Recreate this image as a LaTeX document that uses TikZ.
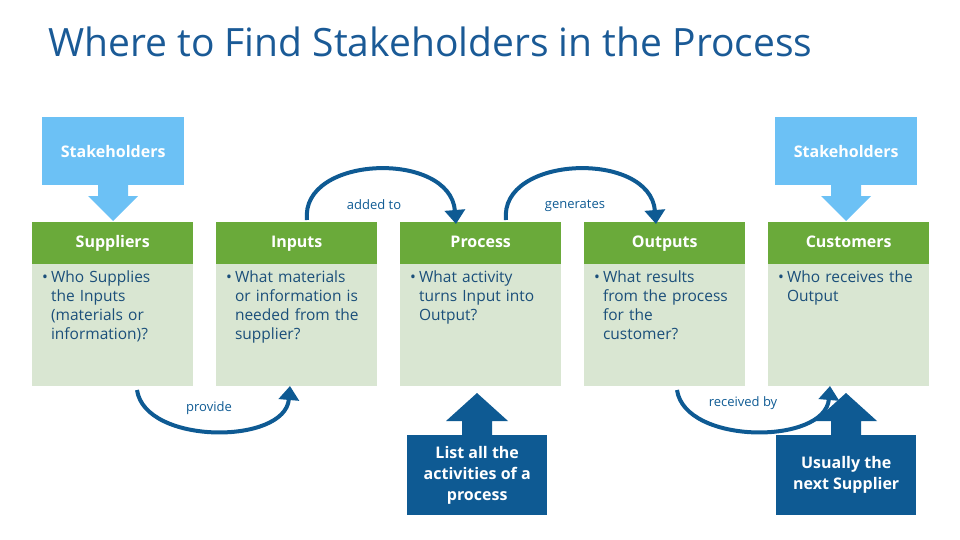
\documentclass[tikz,border=0pt]{standalone}
\usepackage{fontspec}
\setmainfont{Open Sans}
\usetikzlibrary{arrows.meta,positioning}
\definecolor{titleblue}{HTML}{1A5A96}
\definecolor{headgreen}{HTML}{6AAA3A}
\definecolor{bodygreen}{HTML}{D9E6D2}
\definecolor{skyblue}{HTML}{6CC1F5}
\definecolor{navy}{HTML}{0E5A93}
\definecolor{textblue}{HTML}{1B4F7A}
\begin{document}
\begin{tikzpicture}[x=1pt,y=-1pt,>={Triangle[length=14pt,width=20pt]},
    head/.style={fill=headgreen,text=white,font=\bfseries\fontsize{16}{18}\selectfont,
        minimum width=161pt,minimum height=42pt,inner sep=0pt,anchor=north west,
        text height=12pt,text depth=3pt},
    body/.style={fill=bodygreen,minimum width=161pt,minimum height=122pt,
        anchor=north west,inner sep=0pt},
    flow/.style={->,line width=4pt,draw=navy},
    flowlabel/.style={text=navy,font=\fontsize{13}{15}\selectfont},
    stake/.style={fill=skyblue,text=white,font=\bfseries\fontsize{16}{18}\selectfont,
        minimum width=142pt,minimum height=68pt,inner sep=0pt,anchor=north west},
    note/.style={fill=navy,text=white,font=\bfseries\fontsize{16}{21}\selectfont,
        minimum width=140pt,minimum height=80pt,inner sep=0pt,anchor=north west,
        align=center}]
    \useasboundingbox (0,0) rectangle (960,540);
    % Title
    \node [anchor=west,text=titleblue,font=\fontsize{39}{44}\selectfont,inner sep=0pt]
        (title) at (48,42) {Where to Find Stakeholders in the Process};

    % Columns
    \foreach \x/\name/\txt/\bdy in {
        32/sup/Suppliers/{Who Supplies the Inputs (materials or information)?},
        216/inp/Inputs/{What materials or information is needed from the supplier?},
        400/pro/Process/{What activity turns Input into Output?},
        584/out/Outputs/{What results from the process for the customer?},
        768/cus/Customers/{Who receives the Output}} {
        \node [head] (\name) at (\x,222) {\txt};
        \node [body] (\name b) at (\x,264) {};
        \node [anchor=north west,text=textblue,font=\fontsize{15.5}{19}\selectfont,
            text width=150pt,align=left,inner sep=0pt] (\name t) at (\x+10,271)
            {\textbullet\hspace{3pt}\parbox[t]{127pt}{\raggedright\bdy}};
    }

    % Stakeholder callouts
    \foreach \x/\name in {42/stl, 775/str} {
        \node [stake] (\name) at (\x,117) {Stakeholders};
        \fill [skyblue] (\x+56,185) -- (\x+86,185) -- (\x+86,196) -- (\x+96,196)
            -- (\x+71,221) -- (\x+46,196) -- (\x+56,196) -- cycle;
    }

    % Bottom notes
    \node [note] (lst) at (407,435) {List all the\\activities of a\\process};
    \node [note] (nxt) at (776,435) {Usually the\\next Supplier};
    \foreach \c in {477, 846} {
        \fill [navy] (\c-15,435) -- (\c+15,435) -- (\c+15,421) -- (\c+31,421)
            -- (\c,393) -- (\c-31,421) -- (\c-15,421) -- cycle;
    }

    % Flow arrows
    \coordinate (a1) at (307,220);  \coordinate (a2) at (456,224);
    \coordinate (g1) at (506,220);  \coordinate (g2) at (656,224);
    \coordinate (p1) at (137,390);  \coordinate (p2) at (290,386);
    \coordinate (r1) at (677,390);  \coordinate (r2) at (830,386);
    \draw [flow] (a1) .. controls (300,155) and (450,150) .. (a2);
    \node [flowlabel] (lad) at (374,205) {added to};
    \draw [flow] (g1) .. controls (499,155) and (650,150) .. (g2);
    \node [flowlabel] (lgen) at (575,206) {generates};
    \draw [flow] (p1) .. controls (145,445) and (285,445) .. (p2);
    \node [flowlabel] (lprov) at (209,408) {provide};
    \draw [flow] (r1) .. controls (685,445) and (825,445) .. (r2);
    \node [flowlabel] (lrec) at (743,403) {received by};
\end{tikzpicture}
\end{document}
